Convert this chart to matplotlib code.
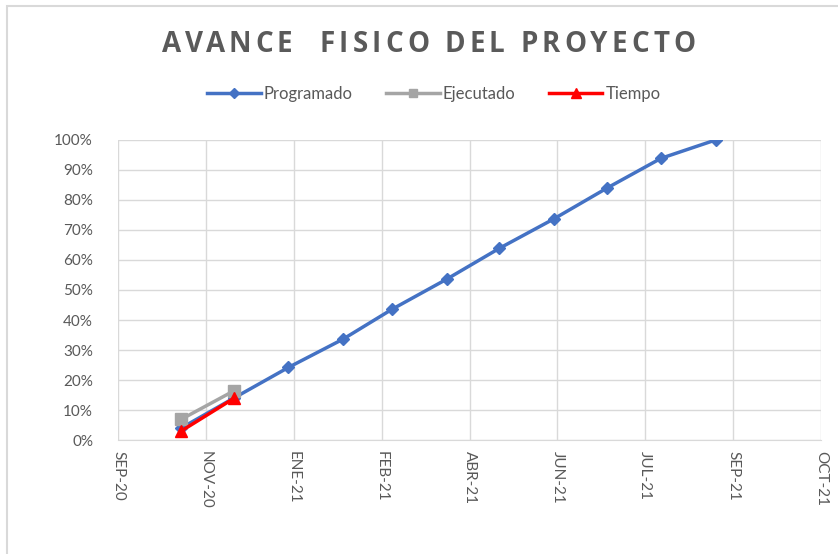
import datetime as dt
import matplotlib
matplotlib.use('Agg')
import matplotlib.pyplot as plt
from matplotlib.font_manager import FontProperties
from matplotlib.patches import Rectangle
from matplotlib.ticker import PercentFormatter

plt.rcParams['font.family'] = ['Lato', 'DejaVu Sans']

# datos (cortes mensuales)
fechas = ['2020-10-31', '2020-11-30', '2020-12-31', '2021-01-31', '2021-02-28',
          '2021-03-31', '2021-04-30', '2021-05-31', '2021-06-30', '2021-07-31',
          '2021-08-31']
programado = [4.0, 14.0, 24.2, 33.6, 43.6, 53.6, 63.9, 73.7, 83.9, 93.9, 100.0]
ejecutado = [6.9, 16.4]
tiempo = [3.0, 13.9]

tick_fechas = ['2020-09-25', '2020-11-14', '2021-01-03', '2021-02-22', '2021-04-13',
               '2021-06-02', '2021-07-22', '2021-09-10', '2021-10-30']
tick_labels = ['SEP-20', 'NOV-20', 'ENE-21', 'FEB-21', 'ABR-21',
               'JUN-21', 'JUL-21', 'SEP-21', 'OCT-21']

titulo = 'AVANCE  FISICO DEL PROYECTO'

x = [dt.datetime.strptime(f, '%Y-%m-%d') for f in fechas]
xt = [dt.datetime.strptime(f, '%Y-%m-%d') for f in tick_fechas]

gris_txt = '#595959'
W, H = 838, 554

fig = plt.figure(figsize=(W / 100, H / 100), dpi=100)
ax = fig.add_axes([118 / W, 1 - 440 / H, (821 - 118) / W, 300 / H])

# marco del grafico
fig.patches.append(Rectangle((7 / W, -0.05), 1.0, 1 - 6 / H + 0.05,
                             transform=fig.transFigure, fill=False,
                             edgecolor='#d9d9d9', linewidth=1.5))

ax.plot(x, programado, color='#4472C4', marker='D', markersize=6.5,
        linewidth=2.5, label='Programado', zorder=3)
ax.plot(x[:len(ejecutado)], ejecutado, color='#A5A5A5', marker='s', markersize=8,
        linewidth=2.5, label='Ejecutado', zorder=4)
ax.plot(x[:len(tiempo)], tiempo, color='#FF0000', marker='^', markersize=9,
        linewidth=2.5, label='Tiempo', zorder=5)

ax.set_xlim(xt[0], xt[-1])
ax.set_ylim(0, 100)
ax.set_xticks(xt)
ax.set_xticklabels(tick_labels, rotation=-90, fontsize=11, color=gris_txt)
ax.set_yticks(range(0, 101, 10))
ax.yaxis.set_major_formatter(PercentFormatter(decimals=0))
ax.tick_params(axis='y', labelsize=11, colors=gris_txt, length=0, pad=18)
ax.tick_params(axis='x', length=0, pad=8)

ax.grid(True, color='#d9d9d9', linewidth=1)
ax.set_axisbelow(True)
for s in ['top', 'right', 'left']:
    ax.spines[s].set_visible(False)
ax.spines['bottom'].set_color('#d9d9d9')

# titulo con espaciado entre letras (ancho aprox. 162-695 px)
prop = FontProperties(family=['Open Sans', 'DejaVu Sans'], weight='bold', size=20)
renderer = fig.canvas.get_renderer()


def ancho(s):
    w, _, _ = renderer.get_text_width_height_descent(s + 'I', prop, ismath=False)
    wi, _, _ = renderer.get_text_width_height_descent('I', prop, ismath=False)
    return w - wi


natural = ancho(titulo)
extra = (533 - natural) / (len(titulo) - 1)
x0 = 162
for i, c in enumerate(titulo):
    xp = x0 + ancho(titulo[:i]) + extra * i
    fig.text(xp / W, 1 - 44 / H, c, ha='left', va='center',
             fontproperties=prop, color='#5a5a5a')

fig.legend(loc='center', bbox_to_anchor=(0.518, 1 - 94 / H), ncol=3, frameon=False,
           fontsize=12, labelcolor=gris_txt, handlelength=3.2, columnspacing=2.0,
           handletextpad=0.2, markerscale=0.8)

fig.savefig('out.png', dpi=100)
